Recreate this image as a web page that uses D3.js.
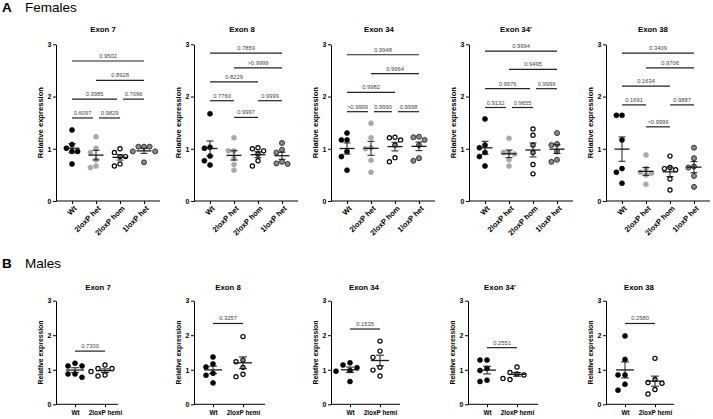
<!DOCTYPE html>
<html><head><meta charset="utf-8">
<script src="https://cdn.jsdelivr.net/npm/d3@7"></script>
<style>body{margin:0;background:#fff} svg{display:block}</style>
</head><body><svg id="c" width="713" height="419"></svg>
<script>
// ---------- data ----------
const femaleGroups = ["Wt", "2loxP het", "2loxP hom", "1loxP het"];
const maleGroups = ["Wt", "2loxP hemi"];
const exons = ["Exon 7", "Exon 8", "Exon 34", "Exon 34'", "Exon 38"];
const yTicks = [0, 1, 2, 3];

// female relative expression, one row per exon
const femaleWt = [
  [1.36, 1.08, 1.01, 0.95, 0.95, 0.71],
  [1.67, 1.03, 1.01, 0.86, 0.77, 0.69],
  [1.30, 1.17, 1.17, 0.95, 0.85, 0.59],
  [1.57, 1.07, 1.02, 0.93, 0.85, 0.67],
  [1.64, 1.64, 1.17, 0.62, 0.55, 0.34]
];
const female2loxPHet = [
  [1.23, 1.01, 0.93, 0.79, 0.67, 0.64],
  [1.21, 0.96, 0.96, 0.82, 0.70, 0.59],
  [1.49, 1.21, 1.02, 1.00, 0.78, 0.55],
  [1.20, 0.93, 0.93, 0.90, 0.79, 0.67],
  [0.88, 0.62, 0.55, 0.53, 0.50, 0.32]
];
const female2loxPHom = [
  [1.00, 0.93, 0.85, 0.85, 0.71, 0.67],
  [1.02, 1.00, 0.96, 0.90, 0.77, 0.67],
  [1.22, 1.21, 1.17, 1.07, 0.83, 0.75],
  [1.38, 1.26, 1.07, 0.93, 0.70, 0.52],
  [0.86, 0.64, 0.62, 0.60, 0.42, 0.21]
];
const female1loxPHet = [
  [1.04, 1.04, 1.04, 0.95, 0.95, 0.74],
  [1.11, 0.98, 0.93, 0.75, 0.72, 0.71],
  [1.23, 1.22, 1.17, 1.07, 0.82, 0.77],
  [1.30, 1.09, 1.07, 0.95, 0.79, 0.75],
  [1.02, 0.82, 0.66, 0.64, 0.48, 0.27]
];

// female comparisons: [groupA, groupB, bracket height (y units), p value]
const femalePValues = [
  [[0,3,2.68,"0.9502"],[1,3,2.31,"0.8928"],[0,2,1.95,"0.3985"],[2,3,1.95,"0.7096"],[0,1,1.59,"0.6097"],[1,2,1.59,"0.9829"]],
  [[0,3,2.83,"0.7859"],[1,3,2.55,">0.9999"],[0,2,2.28,"0.8229"],[0,1,1.92,"0.7760"],[2,3,1.92,"0.9999"],[1,2,1.60,"0.9997"]],
  [[0,3,2.80,"0.9948"],[1,3,2.44,"0.9964"],[0,2,2.08,"0.9982"],[0,1,1.71,">0.9999"],[1,2,1.71,"0.9990"],[2,3,1.71,"0.9998"]],
  [[0,3,2.87,"0.9994"],[1,3,2.52,"0.9495"],[0,2,2.15,"0.9976"],[2,3,2.15,"0.9999"],[0,1,1.79,"0.9132"],[1,2,1.79,"0.9655"]],
  [[0,3,2.83,"0.3409"],[1,3,2.55,"0.9706"],[0,2,2.20,"0.1634"],[0,1,1.84,"0.1691"],[2,3,1.84,"0.9887"],[1,2,1.42,">0.9999"]]
];

// male relative expression
const maleWt = [
  [1.19, 1.11, 1.11, 0.88, 0.88, 0.78],
  [1.37, 1.17, 1.08, 0.90, 0.84, 0.62],
  [1.20, 1.14, 1.06, 0.98, 0.96, 0.66],
  [1.28, 1.28, 1.04, 0.98, 0.70, 0.66],
  [1.98, 1.30, 0.85, 0.85, 0.58, 0.41]
];
const male2loxPHemi = [
  [1.14, 1.04, 1.04, 0.95, 0.85, 0.82],
  [1.96, 1.28, 1.23, 1.07, 0.87, 0.80],
  [1.83, 1.54, 1.36, 1.07, 0.99, 0.82],
  [1.08, 0.92, 0.88, 0.85, 0.75, 0.72],
  [1.33, 0.72, 0.63, 0.61, 0.43, 0.30]
];
const malePValues = [
  [[0,1,1.54,"0.7300"]],
  [[0,1,2.34,"0.3257"]],
  [[0,1,2.18,"0.1535"]],
  [[0,1,1.64,"0.2551"]],
  [[0,1,2.34,"0.2580"]]
];

// ---------- layout / style ----------
const FONT = "'Liberation Sans', Arial, Helvetica, sans-serif";
const svg = d3.select("#c").attr("font-family", FONT);

const femaleStyles = [
  {fill:"#000", stroke:"#000", sw:0.6},
  {fill:"#a9a9a9", stroke:"#a9a9a9", sw:0.6},
  {fill:"#fff", stroke:"#000", sw:1.2},
  {fill:"#8a8a8a", stroke:"#333", sw:1}
];
const maleStyles = [
  {fill:"#000", stroke:"#000", sw:0.6},
  {fill:"#fff", stroke:"#000", sw:1.2}
];

const femaleLayout = {
  axisX: [56, 194, 331, 469, 606], width: 104, top: 44.3, bottom: 201,
  catRange: [16, 88], titleDx: [47, 48, 48, 47, 47], titleY: 32,
  meanHalf: 7.5, capHalf: 3.5, step: 5.6, r: 2.5, rotated: true
};
const maleLayout = {
  axisX: [56, 194, 331, 468, 606], width: [62, 71, 69, 70, 68], top: 300.7, bottom: 404.3,
  catRange: [19, 49], titleDx: [42, 34, 33, 32, 33], titleY: 290,
  meanHalf: 9, capHalf: 4, step: 7, r: 2.5, rotated: false
};

// section headers
function header(txt, letter, y) {
  svg.append("text").attr("x", 2).attr("y", y).attr("font-size", 13.5)
    .attr("font-weight", "bold").text(letter);
  svg.append("text").attr("x", 25).attr("y", y).attr("font-size", 13.5).text(txt);
}
header("Females", "A", 11.5);
header("Males", "B", 267.5);

function swarm(vals, cx, y, step) {
  const placed = [];
  vals.forEach(v => {
    const py = y(v);
    const cands = [0, -1, 1, -2, 2, -3, 3].map(k => k * step);
    let dx = cands.find(c => placed.every(p => (p.dx - c) ** 2 + (p.y - py) ** 2 >= step * step * 0.92));
    if (dx === undefined) dx = 0;
    placed.push({dx, y: py});
  });
  return placed.map(p => ({x: cx + p.dx, y: p.y}));
}

function drawPanel(i, L, groups, series, styles, pvals) {
  const x0 = L.axisX[i];
  const w = Array.isArray(L.width) ? L.width[i] : L.width;
  const g = svg.append("g");
  const y = d3.scaleLinear().domain([0, 3]).range([L.bottom, L.top]);
  const x = d3.scalePoint().domain(groups).range([x0 + L.catRange[0], x0 + L.catRange[1]]);

  // title
  g.append("text").attr("x", x0 + L.titleDx[i]).attr("y", L.titleY)
    .attr("text-anchor", "middle").attr("font-size", 7.8).attr("font-weight", "bold")
    .text(exons[i]);

  // y axis
  const ya = g.append("g").attr("transform", `translate(${x0},0)`)
    .call(d3.axisLeft(y).tickValues(yTicks).tickFormat(d3.format("d")).tickSize(3).tickSizeOuter(0).tickPadding(1.5));
  ya.selectAll("text").attr("font-size", 7).attr("font-weight", "bold").attr("font-family", FONT).attr("fill", "#000");
  ya.selectAll("path,line").attr("stroke", "#000").attr("stroke-width", 1);

  g.append("text")
    .attr("transform", `translate(${x0 - 13},${(L.top + L.bottom) / 2}) rotate(-90)`)
    .attr("text-anchor", "middle").attr("font-size", L.rotated ? 7.6 : 6.8).attr("font-weight", "bold")
    .text("Relative expression");

  // x axis
  const xa = g.append("g").attr("transform", `translate(0,${L.bottom})`)
    .call(d3.axisBottom(x).tickSize(3).tickSizeOuter(0));
  xa.select(".domain").remove();
  xa.selectAll("line").attr("stroke", "#000");
  g.append("line").attr("x1", x0).attr("x2", x0 + w).attr("y1", L.bottom).attr("y2", L.bottom)
    .attr("stroke", "#000").attr("stroke-width", 1);
  const tx = xa.selectAll("text").attr("font-size", L.rotated ? 7.6 : 6.4).attr("font-weight", "bold")
    .attr("font-family", FONT).attr("fill", "#000");
  if (L.rotated) {
    tx.attr("x", 0).attr("y", 0).attr("dy", "0.35em").attr("text-anchor", "end")
      .attr("transform", "translate(3,6) rotate(-45)");
  } else {
    tx.attr("y", 6).attr("dy", "0.71em");
  }

  // points
  groups.forEach((grp, k) => {
    const vals = series[k][i];
    const st = styles[k];
    const pts = swarm(vals, x(grp), y, L.step);
    g.append("g").selectAll("circle").data(pts).join("circle")
      .attr("cx", d => d.x).attr("cy", d => d.y)
      .attr("r", st.fill === "#fff" ? L.r - 0.4 : L.r)
      .attr("fill", st.fill).attr("stroke", st.stroke).attr("stroke-width", st.sw);
    // mean +/- SEM
    const m = d3.mean(vals);
    const sem = d3.deviation(vals) / Math.sqrt(vals.length);
    const cx = x(grp);
    const lg = g.append("g").attr("stroke", "#1a1a1a").attr("fill", "none");
    lg.append("line").attr("x1", cx - L.meanHalf).attr("x2", cx + L.meanHalf)
      .attr("y1", y(m)).attr("y2", y(m)).attr("stroke-width", 1.3);
    lg.append("line").attr("x1", cx).attr("x2", cx)
      .attr("y1", y(m - sem)).attr("y2", y(m + sem)).attr("stroke-width", 1);
    [m - sem, m + sem].forEach(v => lg.append("line")
      .attr("x1", cx - L.capHalf).attr("x2", cx + L.capHalf)
      .attr("y1", y(v)).attr("y2", y(v)).attr("stroke-width", 1));
  });

  // comparison brackets
  pvals[i].forEach(([a, b, lev, p]) => {
    const shareA = pvals[i].some(q => q[2] === lev && q[1] === a);
    const shareB = pvals[i].some(q => q[2] === lev && q[0] === b);
    const xa1 = x(groups[a]) + (shareA ? 3 : 0);
    const xb1 = x(groups[b]) - (shareB ? 3 : 0);
    g.append("line").attr("x1", xa1).attr("x2", xb1).attr("y1", y(lev)).attr("y2", y(lev))
      .attr("stroke", "#222").attr("stroke-width", 1.2);
    g.append("text").attr("x", (xa1 + xb1) / 2).attr("y", y(lev) - 3)
      .attr("text-anchor", "middle").attr("font-size", 5.8).attr("fill", "#444").text(p);
  });
}

const femaleSeries = [femaleWt, female2loxPHet, female2loxPHom, female1loxPHet];
const maleSeries = [maleWt, male2loxPHemi];
exons.forEach((e, i) => {
  drawPanel(i, femaleLayout, femaleGroups, femaleSeries, femaleStyles, femalePValues);
  drawPanel(i, maleLayout, maleGroups, maleSeries, maleStyles, malePValues);
});
</script>
</body></html>
